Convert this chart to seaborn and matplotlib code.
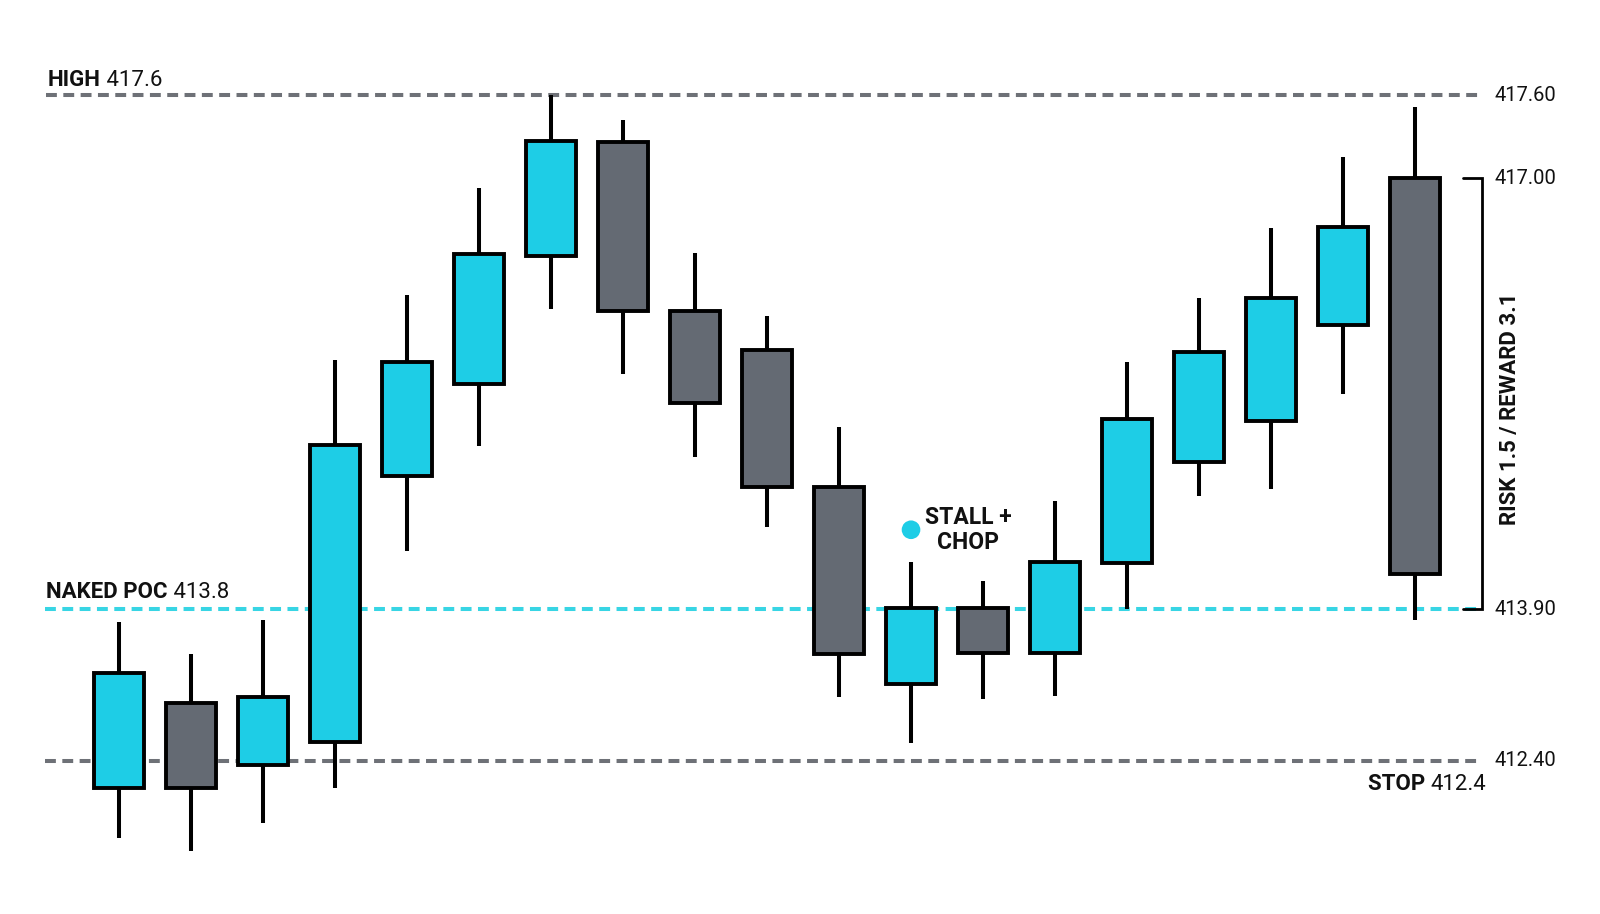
import numpy as np
import pandas as pd
import matplotlib.pyplot as plt
import seaborn as sns

# candle data (19 bars)
opens  = [412.13, 412.97, 412.36, 412.59, 414.86, 415.52, 416.44, 417.26, 416.04, 415.76,
          414.78, 413.16, 413.91, 413.47, 414.23, 414.96, 415.25, 415.94, 417.00]
closes = [413.27, 412.13, 413.03, 415.08, 415.68, 416.45, 417.27, 416.04, 415.38, 414.78,
          413.46, 413.91, 413.47, 414.24, 415.27, 415.75, 416.14, 416.65, 414.15]
highs  = [413.77, 413.46, 413.79, 415.69, 416.16, 416.93, 417.60, 417.42, 416.46, 416.01,
          415.21, 414.24, 414.10, 414.68, 415.68, 416.14, 416.64, 417.15, 417.51]
lows   = [411.64, 411.51, 411.79, 412.13, 414.32, 415.07, 416.06, 415.59, 414.99, 414.49,
          413.03, 412.58, 413.01, 413.04, 413.90, 414.71, 414.76, 415.45, 413.79]

level_prices = [417.60, 417.00, 413.90, 412.40]
level_labels = ["417.60", "417.00", "413.90", "412.40"]
high_level = 417.60
poc_level = 413.90
stop_level = 412.40
target_level = 417.00

stall_bar = 11
stall_price = 414.47

CYAN = "#1ecde6"
GRAY = "#646a73"
LINE_GRAY = "#6e7177"
LINE_CYAN = "#38d5e4"

df = pd.DataFrame({"open": opens, "high": highs, "low": lows, "close": closes})
df["x"] = np.arange(len(df))
df["up"] = df["close"] > df["open"]

sns.set_theme(style="white")
plt.rcParams["font.family"] = ["Liberation Sans Narrow", "Roboto", "DejaVu Sans"]

# the source chart's price axis is stretched unevenly; reproduce it with a piecewise scale
P = np.array([400.0, 412.4, 413.9, 417.0, 417.6, 430.0])
V = np.array([-2017.5, -761.0, -609.0, -178.0, -95.0, 1620.3])


def fwd(p):
    return np.interp(p, P, V)


def inv(v):
    return np.interp(v, V, P)


fig = plt.figure(figsize=(16, 9.14), dpi=100)
ax = fig.add_axes([0, 0, 1, 1])
ax.set_yscale("function", functions=(fwd, inv))
ax.set_xlim(-1.653, 20.569)
ax.set_ylim(410.89, 418.287)
ax.axis("off")

yx = ax.get_yaxis_transform()
dash = (0, (2.7, 1.6))

# reference levels
ax.axhline(high_level, xmin=0.029, xmax=0.926, color=LINE_GRAY, lw=2.9, ls=dash, zorder=1)
ax.axhline(poc_level, xmin=0.028, xmax=0.926, color=LINE_CYAN, lw=2.9, ls=dash, zorder=1)
ax.axhline(stop_level, xmin=0.028, xmax=0.926, color=LINE_GRAY, lw=2.9, ls=dash, zorder=1)

# candles
ax.vlines(df["x"], df["low"], df["high"], color="black", lw=2.9, zorder=2)
colors = [CYAN if u else GRAY for u in df["up"]]
ax.bar(df["x"], df["close"] - df["open"], bottom=df["open"], width=0.70,
       color=colors, edgecolor="black", linewidth=2.8, zorder=3)
for p in ax.patches:
    p.set_joinstyle("miter")

# level labels on the left / bottom right
t = ax.annotate("HIGH", xy=(0.030, high_level), xycoords=yx, xytext=(0, 6.5),
                textcoords="offset points", fontsize=16, fontweight="bold",
                ha="left", va="baseline", color="#111111")
ax.annotate(" 417.6", xy=(1, 0), xycoords=t, fontsize=16, ha="left", va="bottom",
            color="#111111")

t = ax.annotate("NAKED POC", xy=(0.029, poc_level), xycoords=yx, xytext=(0, 8),
                textcoords="offset points", fontsize=16, fontweight="bold",
                ha="left", va="baseline", color="#111111")
ax.annotate(" 413.8", xy=(1, 0), xycoords=t, fontsize=16, ha="left", va="bottom",
            color="#111111")

t = ax.annotate("412.4", xy=(0.929, stop_level), xycoords=yx, xytext=(0, -21),
                textcoords="offset points", fontsize=16, ha="right", va="baseline",
                color="#111111")
ax.annotate("STOP ", xy=(0, 0), xycoords=t, fontsize=16, fontweight="bold",
            ha="right", va="bottom", color="#111111")

# right-hand price labels
for price, lab in zip(level_prices, level_labels):
    ax.text(0.934, price, lab, transform=yx, fontsize=14.5, ha="left", va="center",
            color="#111111")

# risk / reward bracket
ax.plot([0.9144, 0.926, 0.926, 0.9144], [target_level, target_level, poc_level, poc_level],
        transform=yx, color="black", lw=2, solid_joinstyle="miter", zorder=2)
ax.text(0.944, 415.34, "RISK 1.5 / REWARD 3.1", transform=yx, rotation=90,
        fontsize=16, fontweight="bold", ha="center", va="center", color="#111111")

# stall marker
dot = pd.DataFrame({"x": [stall_bar], "y": [stall_price]})
sns.scatterplot(data=dot, x="x", y="y", ax=ax, s=180, color=CYAN, edgecolor="none",
                zorder=4, legend=False)
ax.annotate("STALL +\nCHOP", xy=(stall_bar, stall_price), xytext=(41, 0),
            textcoords="offset points", fontsize=16.5, fontweight="bold",
            ha="center", va="center", linespacing=1.1, color="#111111")
ax.axis("off")

fig.savefig("out.png", dpi=100, facecolor="white")
